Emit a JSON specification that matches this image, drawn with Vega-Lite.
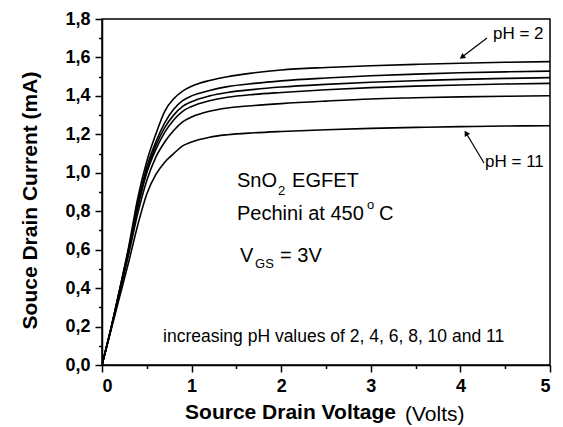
{
  "$schema": "https://vega.github.io/schema/vega-lite/v6.json",
  "width": 448,
  "height": 346,
  "autosize": "none",
  "padding": {"left": 102, "top": 19, "right": 13, "bottom": 62},
  "config": {
    "font": "Liberation Sans",
    "view": {"stroke": "black", "strokeWidth": 1.5},
    "axis": {
      "domainColor": "black",
      "domainWidth": 1.5,
      "tickColor": "black",
      "tickWidth": 1.5,
      "labelColor": "black",
      "titleColor": "black",
      "grid": false
    }
  },
  "datasets": {
    "curves": [
      {"V": 0, "I": 0, "pH": 2}, {"V": 0.1, "I": 0.19, "pH": 2}, {"V": 0.2, "I": 0.40, "pH": 2}, {"V": 0.3, "I": 0.62, "pH": 2}, {"V": 0.4, "I": 0.87, "pH": 2}, {"V": 0.5, "I": 1.06, "pH": 2}, {"V": 0.6, "I": 1.20, "pH": 2}, {"V": 0.7, "I": 1.32, "pH": 2}, {"V": 0.8, "I": 1.385, "pH": 2}, {"V": 0.9, "I": 1.425, "pH": 2}, {"V": 1.0, "I": 1.45, "pH": 2}, {"V": 1.2, "I": 1.48, "pH": 2}, {"V": 1.4, "I": 1.50, "pH": 2}, {"V": 1.7, "I": 1.52, "pH": 2}, {"V": 2, "I": 1.535, "pH": 2}, {"V": 2.5, "I": 1.548, "pH": 2}, {"V": 3, "I": 1.557, "pH": 2}, {"V": 3.5, "I": 1.564, "pH": 2}, {"V": 4, "I": 1.57, "pH": 2}, {"V": 4.5, "I": 1.575, "pH": 2}, {"V": 5, "I": 1.578, "pH": 2},
      {"V": 0, "I": 0, "pH": 4}, {"V": 0.1, "I": 0.19, "pH": 4}, {"V": 0.2, "I": 0.40, "pH": 4}, {"V": 0.3, "I": 0.61, "pH": 4}, {"V": 0.4, "I": 0.84, "pH": 4}, {"V": 0.5, "I": 1.03, "pH": 4}, {"V": 0.6, "I": 1.16, "pH": 4}, {"V": 0.7, "I": 1.26, "pH": 4}, {"V": 0.8, "I": 1.33, "pH": 4}, {"V": 0.9, "I": 1.375, "pH": 4}, {"V": 1.0, "I": 1.40, "pH": 4}, {"V": 1.2, "I": 1.428, "pH": 4}, {"V": 1.4, "I": 1.448, "pH": 4}, {"V": 1.7, "I": 1.465, "pH": 4}, {"V": 2, "I": 1.478, "pH": 4}, {"V": 2.5, "I": 1.493, "pH": 4}, {"V": 3, "I": 1.505, "pH": 4}, {"V": 3.5, "I": 1.513, "pH": 4}, {"V": 4, "I": 1.52, "pH": 4}, {"V": 4.5, "I": 1.525, "pH": 4}, {"V": 5, "I": 1.529, "pH": 4},
      {"V": 0, "I": 0, "pH": 6}, {"V": 0.1, "I": 0.19, "pH": 6}, {"V": 0.2, "I": 0.39, "pH": 6}, {"V": 0.3, "I": 0.60, "pH": 6}, {"V": 0.4, "I": 0.83, "pH": 6}, {"V": 0.5, "I": 1.01, "pH": 6}, {"V": 0.6, "I": 1.14, "pH": 6}, {"V": 0.7, "I": 1.235, "pH": 6}, {"V": 0.8, "I": 1.30, "pH": 6}, {"V": 0.9, "I": 1.345, "pH": 6}, {"V": 1.0, "I": 1.37, "pH": 6}, {"V": 1.2, "I": 1.40, "pH": 6}, {"V": 1.4, "I": 1.418, "pH": 6}, {"V": 1.7, "I": 1.434, "pH": 6}, {"V": 2, "I": 1.446, "pH": 6}, {"V": 2.5, "I": 1.46, "pH": 6}, {"V": 3, "I": 1.471, "pH": 6}, {"V": 3.5, "I": 1.479, "pH": 6}, {"V": 4, "I": 1.486, "pH": 6}, {"V": 4.5, "I": 1.491, "pH": 6}, {"V": 5, "I": 1.495, "pH": 6},
      {"V": 0, "I": 0, "pH": 8}, {"V": 0.1, "I": 0.19, "pH": 8}, {"V": 0.2, "I": 0.39, "pH": 8}, {"V": 0.3, "I": 0.60, "pH": 8}, {"V": 0.4, "I": 0.82, "pH": 8}, {"V": 0.5, "I": 1.00, "pH": 8}, {"V": 0.6, "I": 1.12, "pH": 8}, {"V": 0.7, "I": 1.21, "pH": 8}, {"V": 0.8, "I": 1.275, "pH": 8}, {"V": 0.9, "I": 1.32, "pH": 8}, {"V": 1.0, "I": 1.345, "pH": 8}, {"V": 1.2, "I": 1.375, "pH": 8}, {"V": 1.4, "I": 1.393, "pH": 8}, {"V": 1.7, "I": 1.408, "pH": 8}, {"V": 2, "I": 1.418, "pH": 8}, {"V": 2.5, "I": 1.432, "pH": 8}, {"V": 3, "I": 1.443, "pH": 8}, {"V": 3.5, "I": 1.451, "pH": 8}, {"V": 4, "I": 1.457, "pH": 8}, {"V": 4.5, "I": 1.462, "pH": 8}, {"V": 5, "I": 1.465, "pH": 8},
      {"V": 0, "I": 0, "pH": 10}, {"V": 0.1, "I": 0.185, "pH": 10}, {"V": 0.2, "I": 0.38, "pH": 10}, {"V": 0.3, "I": 0.58, "pH": 10}, {"V": 0.4, "I": 0.79, "pH": 10}, {"V": 0.5, "I": 0.96, "pH": 10}, {"V": 0.6, "I": 1.08, "pH": 10}, {"V": 0.7, "I": 1.16, "pH": 10}, {"V": 0.8, "I": 1.22, "pH": 10}, {"V": 0.9, "I": 1.265, "pH": 10}, {"V": 1.0, "I": 1.29, "pH": 10}, {"V": 1.2, "I": 1.32, "pH": 10}, {"V": 1.4, "I": 1.337, "pH": 10}, {"V": 1.7, "I": 1.35, "pH": 10}, {"V": 2, "I": 1.36, "pH": 10}, {"V": 2.5, "I": 1.373, "pH": 10}, {"V": 3, "I": 1.384, "pH": 10}, {"V": 3.5, "I": 1.39, "pH": 10}, {"V": 4, "I": 1.395, "pH": 10}, {"V": 4.5, "I": 1.398, "pH": 10}, {"V": 5, "I": 1.401, "pH": 10},
      {"V": 0, "I": 0, "pH": 11}, {"V": 0.1, "I": 0.18, "pH": 11}, {"V": 0.2, "I": 0.36, "pH": 11}, {"V": 0.3, "I": 0.54, "pH": 11}, {"V": 0.4, "I": 0.73, "pH": 11}, {"V": 0.5, "I": 0.89, "pH": 11}, {"V": 0.6, "I": 0.99, "pH": 11}, {"V": 0.7, "I": 1.055, "pH": 11}, {"V": 0.8, "I": 1.10, "pH": 11}, {"V": 0.9, "I": 1.14, "pH": 11}, {"V": 1.0, "I": 1.16, "pH": 11}, {"V": 1.2, "I": 1.185, "pH": 11}, {"V": 1.4, "I": 1.198, "pH": 11}, {"V": 1.7, "I": 1.208, "pH": 11}, {"V": 2, "I": 1.215, "pH": 11}, {"V": 2.5, "I": 1.224, "pH": 11}, {"V": 3, "I": 1.231, "pH": 11}, {"V": 3.5, "I": 1.236, "pH": 11}, {"V": 4, "I": 1.24, "pH": 11}, {"V": 4.5, "I": 1.243, "pH": 11}, {"V": 5, "I": 1.245, "pH": 11}
    ],
    "labels": [
      {"x": 1.507, "y": 0.926, "text": "SnO", "kind": "main"},
      {"x": 2.121, "y": 0.926, "text": "EGFET", "kind": "main"},
      {"x": 1.507, "y": 0.754, "text": "Pechini at 450", "kind": "main"},
      {"x": 3.092, "y": 0.754, "text": "C", "kind": "main"},
      {"x": 1.54, "y": 0.536, "text": "V", "kind": "main"},
      {"x": 1.987, "y": 0.536, "text": "= 3V", "kind": "main"},
      {"x": 1.964, "y": 0.884, "text": "2", "kind": "sub"},
      {"x": 2.958, "y": 0.812, "text": "o", "kind": "sub"},
      {"x": 1.708, "y": 0.505, "text": "GS", "kind": "sub"},
      {"x": 0.681, "y": 0.12, "text": "increasing pH values of 2, 4, 6, 8, 10 and 11", "kind": "note"},
      {"x": 4.364, "y": 1.696, "text": "pH = 2", "kind": "ph"},
      {"x": 4.275, "y": 1.03, "text": "pH = 11", "kind": "ph"}
    ],
    "arrows": [
      {"x": 4.297, "y": 1.701, "x2": 4.018, "y2": 1.602, "name": "pH2"},
      {"x": 4.264, "y": 1.051, "x2": 4.063, "y2": 1.207, "name": "pH11"}
    ]
  },
  "resolve": {"axis": {"x": "independent", "y": "independent"}},
  "layer": [
    {
      "data": {"name": "curves"},
      "mark": {"type": "line", "interpolate": "monotone", "color": "black", "strokeWidth": 1.6, "clip": true},
      "encoding": {
        "x": {
          "field": "V", "type": "quantitative",
          "scale": {"domain": [0, 5], "nice": false},
          "axis": {
            "values": [0, 1, 2, 3, 4, 5], "format": "d",
            "labelFontSize": 18, "labelFontWeight": "bold",
            "labelPadding": 5, "tickSize": 7,
            "title": "Source Drain Voltage", "titleFontSize": 21, "titleFontWeight": "bold",
            "titleX": 188, "titlePadding": 6
          }
        },
        "y": {
          "field": "I", "type": "quantitative",
          "scale": {"domain": [0, 1.8], "nice": false},
          "axis": {
            "values": [0, 0.2, 0.4, 0.6, 0.8, 1.0, 1.2, 1.4, 1.6, 1.8],
            "labelExpr": "replace(format(datum.value, '.1f'), '.', ',')",
            "labelFontSize": 18, "labelFontWeight": "bold", "labelPadding": 5, "tickSize": 7,
            "title": "Souce Drain Current (mA)", "titleFontSize": 21, "titleFontWeight": "bold",
            "titlePadding": 24, "titleY": 181
          }
        },
        "detail": {"field": "pH", "type": "nominal"}
      }
    },
    {
      "data": {"name": "curves"},
      "mark": {"type": "line", "opacity": 0},
      "encoding": {
        "x": {
          "field": "V", "type": "quantitative",
          "axis": {"orient": "bottom", "values": [0.5, 1.5, 2.5, 3.5, 4.5], "labels": false, "domain": false, "tickSize": 3.5, "title": null}
        },
        "y": {
          "field": "I", "type": "quantitative",
          "axis": {"orient": "left", "values": [0.1, 0.3, 0.5, 0.7, 0.9, 1.1, 1.3, 1.5, 1.7], "labels": false, "domain": false, "tickSize": 3.5, "title": null}
        },
        "detail": {"field": "pH", "type": "nominal"}
      }
    },
    {
      "data": {"name": "labels"},
      "transform": [{"filter": "datum.kind === 'main'"}],
      "mark": {"type": "text", "align": "left", "baseline": "alphabetic", "fontSize": 20, "color": "black"},
      "encoding": {"x": {"field": "x", "type": "quantitative", "axis": null}, "y": {"field": "y", "type": "quantitative", "axis": null}, "text": {"field": "text"}}
    },
    {
      "data": {"name": "labels"},
      "transform": [{"filter": "datum.kind === 'sub'"}],
      "mark": {"type": "text", "align": "left", "baseline": "alphabetic", "fontSize": 13, "color": "black"},
      "encoding": {"x": {"field": "x", "type": "quantitative", "axis": null}, "y": {"field": "y", "type": "quantitative", "axis": null}, "text": {"field": "text"}}
    },
    {
      "data": {"name": "labels"},
      "transform": [{"filter": "datum.kind === 'note'"}],
      "mark": {"type": "text", "align": "left", "baseline": "alphabetic", "fontSize": 17.5, "color": "black"},
      "encoding": {"x": {"field": "x", "type": "quantitative", "axis": null}, "y": {"field": "y", "type": "quantitative", "axis": null}, "text": {"field": "text"}}
    },
    {
      "data": {"name": "labels"},
      "transform": [{"filter": "datum.kind === 'ph'"}],
      "mark": {"type": "text", "align": "left", "baseline": "alphabetic", "fontSize": 17, "color": "black"},
      "encoding": {"x": {"field": "x", "type": "quantitative", "axis": null}, "y": {"field": "y", "type": "quantitative", "axis": null}, "text": {"field": "text"}}
    },
    {
      "data": {"name": "arrows"},
      "mark": {"type": "rule", "color": "black", "strokeWidth": 1.2},
      "encoding": {
        "x": {"field": "x", "type": "quantitative", "axis": null}, "y": {"field": "y", "type": "quantitative", "axis": null},
        "x2": {"field": "x2"}, "y2": {"field": "y2"}
      }
    },
    {
      "data": {"name": "arrows"},
      "transform": [{"filter": "datum.name === 'pH2'"}],
      "mark": {"type": "point", "shape": "triangle-up", "filled": true, "color": "black", "size": 40, "angle": 233, "opacity": 1},
      "encoding": {"x": {"field": "x2", "type": "quantitative", "axis": null}, "y": {"field": "y2", "type": "quantitative", "axis": null}}
    },
    {
      "data": {"name": "arrows"},
      "transform": [{"filter": "datum.name === 'pH11'"}],
      "mark": {"type": "point", "shape": "triangle-up", "filled": true, "color": "black", "size": 40, "angle": 329, "opacity": 1},
      "encoding": {"x": {"field": "x2", "type": "quantitative", "axis": null}, "y": {"field": "y2", "type": "quantitative", "axis": null}}
    },
    {
      "data": {"values": [{"x": 3.382, "y": -0.291, "text": "(Volts)"}]},
      "mark": {"type": "text", "align": "left", "baseline": "alphabetic", "fontSize": 21, "color": "black", "clip": false},
      "encoding": {"x": {"field": "x", "type": "quantitative", "axis": null}, "y": {"field": "y", "type": "quantitative", "axis": null}, "text": {"field": "text"}}
    }
  ]
}
